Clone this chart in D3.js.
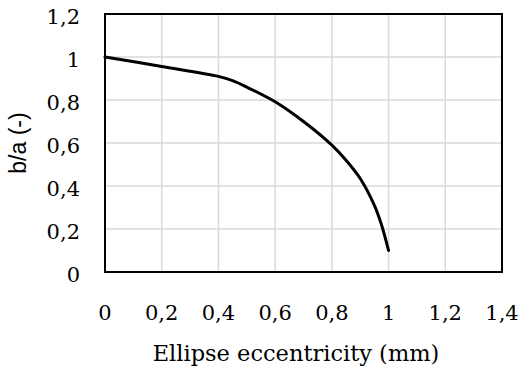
<!DOCTYPE html>
<html lang="en">
<head>
<meta charset="UTF-8">
<title>b/a vs ellipse eccentricity</title>
<script src="https://d3js.org/d3.v7.min.js"></script>
<style>
    body { margin: 0; background: #fff; }
    .tick-label { font-family: "DejaVu Serif", serif; font-size: 21px; fill: #000; }
    .axis-title { font-family: "DejaVu Serif", serif; font-size: 22.5px; fill: #000; }
    .y-title { font-family: "Liberation Sans", Arial, sans-serif; font-size: 23px; fill: #000; }
</style>
</head>
<body>
<div id="chart"></div>
<script>
    // values
    const eccentricity = [0, 0.2, 0.4, 0.45, 0.5, 0.6, 0.7, 0.8, 0.85, 0.9, 0.95, 0.975, 1];
    const ratio = [1, 0.956, 0.91, 0.89, 0.86, 0.792, 0.70, 0.59, 0.52, 0.435, 0.31, 0.22, 0.1];
    const xTicks = [0, 0.2, 0.4, 0.6, 0.8, 1, 1.2, 1.4];
    const yTicks = [0, 0.2, 0.4, 0.6, 0.8, 1, 1.2];

    const width = 523, height = 372;
    const margin = { top: 14, right: 21, bottom: 100, left: 105 };

    const svg = d3.select("#chart").append("svg")
        .attr("width", width)
        .attr("height", height);

    const x = d3.scaleLinear().domain([0, 1.4]).range([margin.left, width - margin.right]);
    const y = d3.scaleLinear().domain([0, 1.2]).range([height - margin.bottom, margin.top]);

    const fmt = d => String(+d.toFixed(1)).replace(".", ",");

    // grid
    svg.append("g").selectAll("line")
        .data(xTicks.slice(1, -1))
        .enter().append("line")
        .attr("x1", d => x(d)).attr("x2", d => x(d))
        .attr("y1", y(0)).attr("y2", y(1.2))
        .attr("stroke", "#d9d9d9").attr("stroke-width", 1.5);

    svg.append("g").selectAll("line")
        .data(yTicks.slice(1, -1))
        .enter().append("line")
        .attr("y1", d => y(d)).attr("y2", d => y(d))
        .attr("x1", x(0)).attr("x2", x(1.4))
        .attr("stroke", "#d9d9d9").attr("stroke-width", 1.5);

    // frame
    svg.append("rect")
        .attr("x", x(0)).attr("y", y(1.2))
        .attr("width", x(1.4) - x(0))
        .attr("height", y(0) - y(1.2))
        .attr("fill", "none")
        .attr("stroke", "#000")
        .attr("stroke-width", 2);

    // tick labels
    svg.append("g").selectAll("text")
        .data(xTicks)
        .enter().append("text")
        .attr("class", "tick-label")
        .attr("x", d => x(d))
        .attr("y", 320)
        .attr("text-anchor", "middle")
        .text(fmt);

    svg.append("g").selectAll("text")
        .data(yTicks)
        .enter().append("text")
        .attr("class", "tick-label")
        .attr("x", 80)
        .attr("y", d => y(d) + 10)
        .attr("text-anchor", "end")
        .text(fmt);

    // axis titles
    svg.append("text")
        .attr("class", "axis-title")
        .attr("x", 296)
        .attr("y", 361)
        .attr("text-anchor", "middle")
        .text("Ellipse eccentricity (mm)");

    svg.append("text")
        .attr("class", "y-title")
        .attr("transform", `translate(26, ${(y(0) + y(1.2)) / 2}) rotate(-90)`)
        .attr("text-anchor", "middle")
        .text("b/a (-)");

    // curve
    const line = d3.line()
        .x((d, i) => x(eccentricity[i]))
        .y(d => y(d))
        .curve(d3.curveCatmullRom.alpha(0.5));

    svg.append("path")
        .datum(ratio)
        .attr("d", line)
        .attr("fill", "none")
        .attr("stroke", "#000")
        .attr("stroke-width", 3)
        .attr("stroke-linecap", "round");
</script>
</body>
</html>
